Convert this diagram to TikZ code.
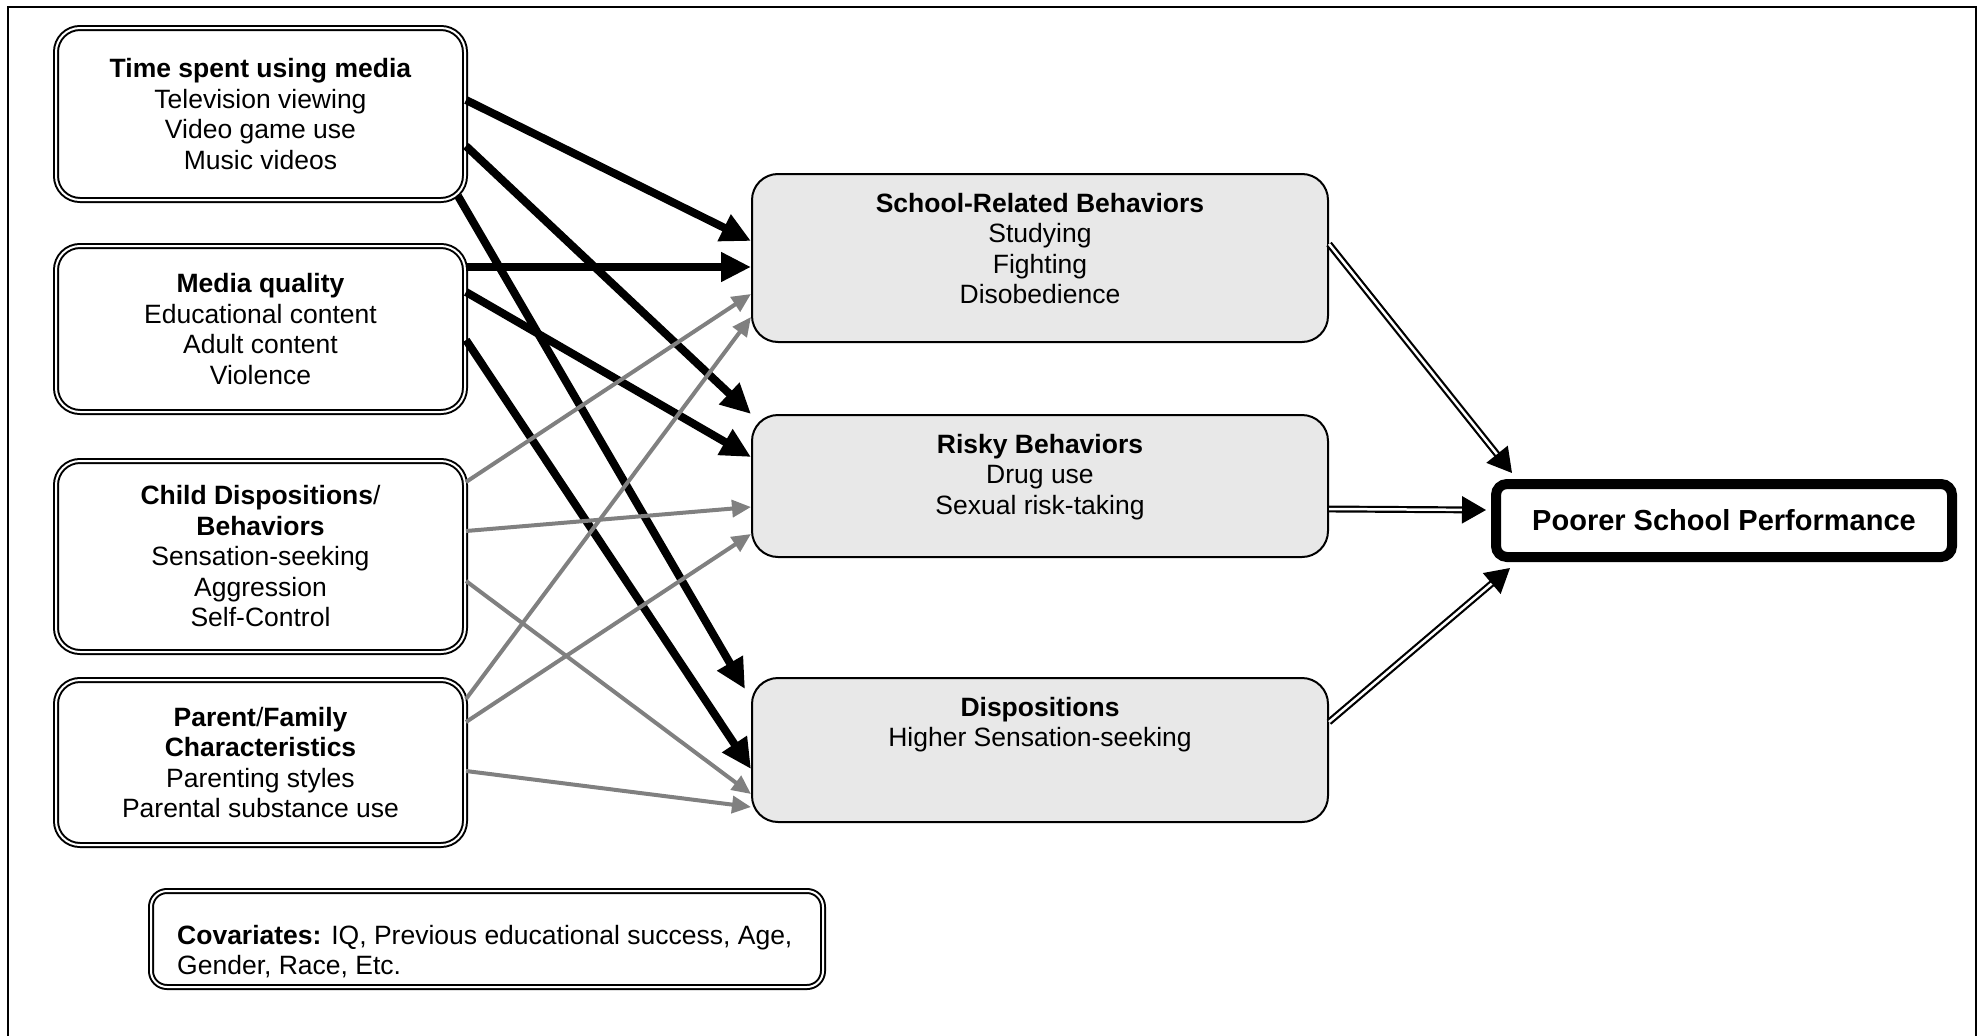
\documentclass[tikz,border=0pt]{standalone}
\usepackage{fontspec}
\setmainfont{Liberation Sans}
\usetikzlibrary{arrows.meta,calc}
\begin{document}
\begin{tikzpicture}[x=1pt,y=-1pt,
  txt/.style={font=\fontsize{26.5}{30.5}\selectfont, align=center},
  leftbox/.style={draw, double, double distance=2pt, line width=2pt, rounded corners=24pt, minimum width=409pt, inner sep=0pt, txt},
  midbox/.style={draw, line width=2pt, fill=black!9, rounded corners=26pt, minimum width=576pt, inner sep=0pt},
  blk/.style={line width=8pt, -{Triangle[length=30pt,width=28pt]}},
  gry/.style={draw=black!50, line width=4pt, -{Triangle[length=19pt,width=17pt]}},
  dbl/.style={double, double distance=2.5pt, line width=2.2pt, -{Triangle[length=24pt,width=27pt]}}
]
\useasboundingbox (0,0) rectangle (1984,1036);
\draw[line width=1.8pt] (8,1036) -- (8,7) -- (1976,7) -- (1976,1036);

% left boxes
\node[leftbox, minimum height=172pt] (b1) at (260.5,114) {\textbf{Time spent using media}\\Television viewing\\Video game use\\Music videos};
\node[leftbox, minimum height=166pt] (b2) at (260.5,329) {\textbf{Media quality}\\Educational content\\Adult content\\Violence};
\node[leftbox, minimum height=191pt] (b3) at (260.5,556.5) {\textbf{Child Dispositions}/\\\textbf{Behaviors}\\Sensation-seeking\\Aggression\\Self-Control};
\node[leftbox, minimum height=165pt] (b4) at (260.5,762.5) {\textbf{Parent}/\textbf{Family}\\\textbf{Characteristics}\\Parenting styles\\Parental substance use};

% middle boxes
\node[midbox, minimum height=168pt] (school) at (1040,258) {};
\node[midbox, minimum height=142pt] (risky) at (1040,486) {};
\node[midbox, minimum height=144pt] (disp) at (1040,750) {};
\node[txt, anchor=north, inner sep=0pt] (schoolT) at ([yshift=-20pt]school.north) {\textbf{School-Related Behaviors}\\Studying\\Fighting\\Disobedience};
\node[txt, anchor=north, inner sep=0pt] (riskyT) at ([yshift=-20pt]risky.north) {\textbf{Risky Behaviors}\\Drug use\\Sexual risk-taking};
\node[txt, anchor=north, inner sep=0pt] (dispT) at ([yshift=-20pt]disp.north) {\textbf{Dispositions}\\Higher Sensation-seeking};

% outcome
\node[draw, line width=10pt, rounded corners=11pt, minimum width=456pt, minimum height=73pt, inner sep=0pt, font=\fontsize{29}{34}\selectfont\bfseries] (poor) at (1724,520.5) {Poorer School Performance};

% covariates
\node[draw, double, double distance=2pt, line width=2pt, rounded corners=16pt, minimum width=672pt, minimum height=96pt] (cov) at (487,939) {};
\node[txt, align=left, anchor=north west, inner sep=0pt] (covT) at ([xshift=27pt,yshift=-35pt]cov.north west) {\textbf{Covariates:} IQ, Previous educational success, Age,\\Gender, Race, Etc.};

% black arrows
\draw[blk] ([yshift=-73pt]b1.north east) -- ([yshift=-68pt]school.north west);
\draw[blk] ([yshift=-119pt]b1.north east) -- (risky.north west);
\draw[blk] ([xshift=-8pt,yshift=5pt]b1.south east) -- ([xshift=-6pt,yshift=-12pt]disp.north west);
\draw[blk] ([yshift=-22pt]b2.north east) -- ([yshift=-94pt]school.north west);
\draw[blk] ([yshift=-47pt]b2.north east) -- ([yshift=-43pt]risky.north west);
\draw[blk] ([yshift=-95pt]b2.north east) -- ([yshift=-92pt]disp.north west);

% gray arrows
\draw[gry] ([yshift=-22pt]b3.north east) -- ([yshift=-121pt]school.north west);
\draw[gry] ([yshift=-71pt]b3.north east) -- ([yshift=-93pt]risky.north west);
\draw[gry] ([yshift=-121pt]b3.north east) -- ([yshift=-117pt]disp.north west);
\draw[gry] ([yshift=-20pt]b4.north east) -- ([yshift=-144pt]school.north west);
\draw[gry] ([yshift=-43pt]b4.north east) -- ([yshift=-120pt]risky.north west);
\draw[gry] ([yshift=-92pt]b4.north east) -- ([yshift=-130pt]disp.north west);

% double arrows
\draw[dbl] ([yshift=-71pt]school.north east) -- ([xshift=21pt,yshift=6pt]poor.north west);
\draw[dbl] ([yshift=-95pt]risky.north east) -- ([xshift=-5pt,yshift=10.5pt]poor.west);
\draw[dbl] ([yshift=-45pt]disp.north east) -- ([xshift=19pt,yshift=-6pt]poor.south west);
\end{tikzpicture}
\end{document}
